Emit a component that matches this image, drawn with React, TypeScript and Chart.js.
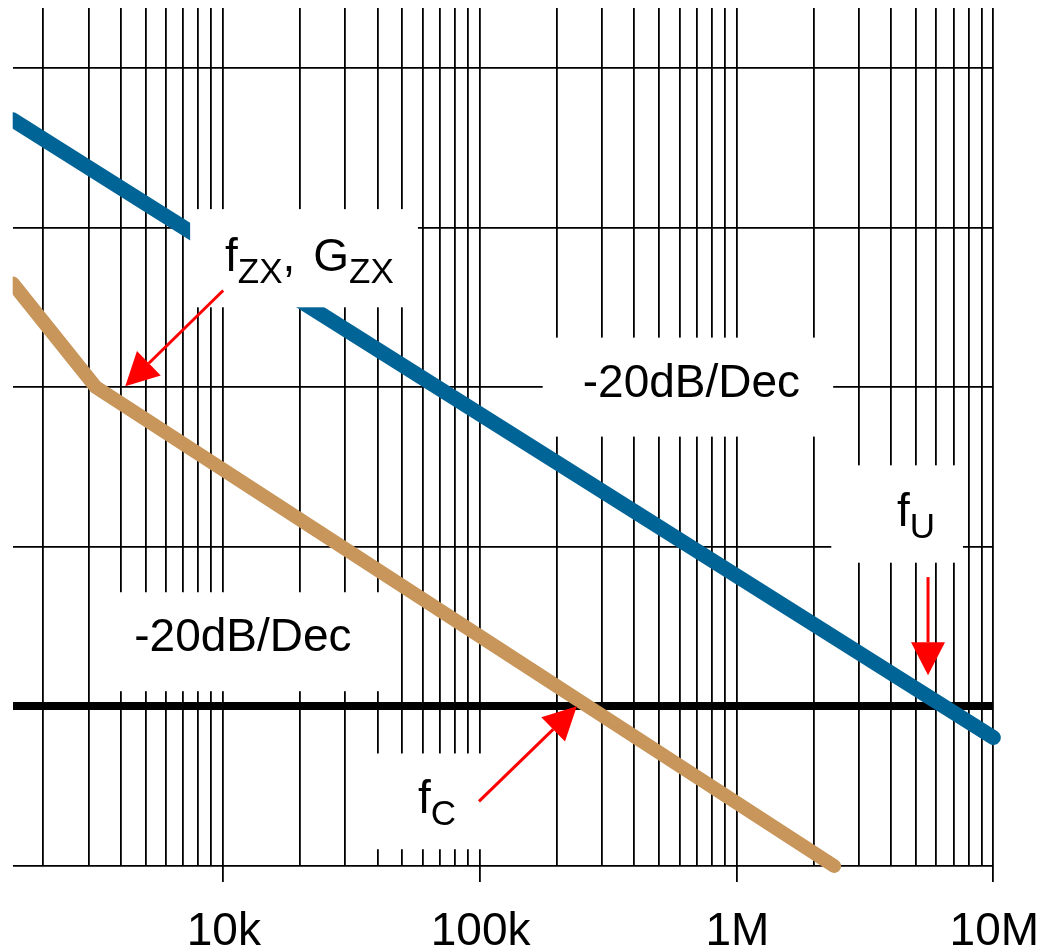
import React, { useEffect, useRef } from 'react';
import { Chart, registerables } from 'chart.js';

Chart.register(...registerables);

const FONT = '"Liberation Sans", Arial, Helvetica, sans-serif';

const X_MIN = 1520;
const X_MAX = 1e7;
const Y_MIN = -20;
const Y_MAX = 87.5;

const gainGridLines = [-20, 0, 20, 40, 60, 80];
const decadeTicks = [1e4, 1e5, 1e6, 1e7];
const decadeLabels = ['10k', '100k', '1M', '10M'];
const minorMultipliers = [2, 3, 4, 5, 6, 7, 8, 9];
const gridDecadeBases = [1e3, 1e4, 1e5, 1e6];

// open-loop gain (blue) and loop gain (tan)
const openLoopFreq = [1520, 1e7];
const openLoopGain = [73.5, -3.9];
const loopGainFreq = [1520, 3200, 2.4e6];
const loopGainDb = [53, 40, -20];

// white label backgrounds: [freqLeft, freqRight, gainTop, gainBottom]
const boxFreqLeft = [7460, 176000, 2340000, 3330, 32700];
const boxFreqRight = [57500, 2380000, 7620000, 42800, 172000];
const boxGainTop = [62.3, 46.2, 30.2, 14.3, -5.9];
const boxGainBottom = [50.0, 33.8, 18.0, 1.9, -17.9];

// text labels
const labelMain = ['f', 'G', '-20dB/Dec', '-20dB/Dec', 'f', 'f'];
const labelSub = ['ZX', 'ZX', '', '', 'U', 'C'];
const labelTail = [',', '', '', '', '', ''];
const labelFreq = [10200, 22500, 252000, 4520, 4220000, 57500];
const labelGain = [54.6, 54.6, 38.7, 6.9, 22.6, -13.3];

// red arrows
const arrowFromFreq = [10030, 99400, 5570000];
const arrowFromGain = [52.1, -11.9, 16.2];
const arrowToFreq = [4170, 239000, 5570000];
const arrowToGain = [40.1, 0, 3.9];

const gridTickValues: number[] = [];
gridDecadeBases.forEach((b) => minorMultipliers.forEach((m) => gridTickValues.push(b * m)));
decadeTicks.forEach((d) => { if (!gridTickValues.includes(d)) gridTickValues.push(d); });
gridTickValues.sort((a, b) => a - b);

function drawArrow(ctx: CanvasRenderingContext2D, x1: number, y1: number, x2: number, y2: number) {
  const ang = Math.atan2(y2 - y1, x2 - x1);
  const headLen = 33;
  const headHalf = 17;
  const bx = x2 - headLen * Math.cos(ang);
  const by = y2 - headLen * Math.sin(ang);
  ctx.strokeStyle = '#ff0000';
  ctx.fillStyle = '#ff0000';
  ctx.lineWidth = 3;
  ctx.beginPath();
  ctx.moveTo(x1, y1);
  ctx.lineTo(bx, by);
  ctx.stroke();
  ctx.beginPath();
  ctx.moveTo(x2, y2);
  ctx.lineTo(bx + headHalf * Math.sin(ang), by - headHalf * Math.cos(ang));
  ctx.lineTo(bx - headHalf * Math.sin(ang), by + headHalf * Math.cos(ang));
  ctx.closePath();
  ctx.fill();
}

const annotationPlugin = {
  id: 'bodeAnnotations',
  afterDatasetsDraw(chart: any) {
    const ctx: CanvasRenderingContext2D = chart.ctx;
    const xs = chart.scales.x;
    const ys = chart.scales.y;
    ctx.save();
    // label backgrounds
    ctx.fillStyle = '#ffffff';
    for (let i = 0; i < boxFreqLeft.length; i++) {
      const x1 = xs.getPixelForValue(boxFreqLeft[i]);
      const x2 = xs.getPixelForValue(boxFreqRight[i]);
      const y1 = ys.getPixelForValue(boxGainTop[i]);
      const y2 = ys.getPixelForValue(boxGainBottom[i]);
      ctx.fillRect(x1, y1, x2 - x1, y2 - y1);
    }
    // labels
    ctx.fillStyle = '#000000';
    ctx.textAlign = 'left';
    ctx.textBaseline = 'alphabetic';
    for (let i = 0; i < labelMain.length; i++) {
      let x = xs.getPixelForValue(labelFreq[i]);
      const y = ys.getPixelForValue(labelGain[i]);
      ctx.font = `46px ${FONT}`;
      ctx.fillText(labelMain[i], x, y);
      x += ctx.measureText(labelMain[i]).width;
      if (labelSub[i]) {
        ctx.font = `35px ${FONT}`;
        ctx.fillText(labelSub[i], x, y + 12);
        x += ctx.measureText(labelSub[i]).width;
      }
      if (labelTail[i]) {
        ctx.font = `46px ${FONT}`;
        ctx.fillText(labelTail[i], x, y);
      }
    }
    // arrows
    for (let i = 0; i < arrowFromFreq.length; i++) {
      drawArrow(
        ctx,
        xs.getPixelForValue(arrowFromFreq[i]),
        ys.getPixelForValue(arrowFromGain[i]),
        xs.getPixelForValue(arrowToFreq[i]),
        ys.getPixelForValue(arrowToGain[i])
      );
    }
    // x axis decade labels
    ctx.fillStyle = '#000000';
    ctx.font = `46px ${FONT}`;
    ctx.textAlign = 'center';
    const baseY = chart.chartArea.bottom + 79;
    decadeTicks.forEach((v, i) => {
      ctx.fillText(decadeLabels[i], xs.getPixelForValue(v) + 1, baseY);
    });
    ctx.restore();
  },
};

export default function App() {
  const canvasRef = useRef<HTMLCanvasElement | null>(null);

  useEffect(() => {
    document.body.style.margin = '0';
    document.body.style.overflow = 'hidden';
    const canvas = canvasRef.current;
    if (!canvas) return;
    const chart = new Chart(canvas, {
      type: 'line',
      data: {
        datasets: [
          {
            label: 'Open-loop gain',
            data: openLoopFreq.map((f, i) => ({ x: f, y: openLoopGain[i] })),
            borderColor: '#006496',
            borderWidth: 15,
            borderCapStyle: 'round',
            pointRadius: 0,
            fill: false,
            tension: 0,
            clip: { left: 0, top: 0, right: 10, bottom: 10 },
          } as any,
          {
            label: 'Loop gain',
            data: loopGainFreq.map((f, i) => ({ x: f, y: loopGainDb[i] })),
            borderColor: '#C8965A',
            borderWidth: 14,
            borderCapStyle: 'round',
            borderJoinStyle: 'miter',
            pointRadius: 0,
            fill: false,
            tension: 0,
            clip: { left: 0, top: 0, right: 10, bottom: 10 },
          } as any,
        ],
      },
      options: {
        animation: false,
        responsive: false,
        devicePixelRatio: 1,
        layout: { padding: { left: 12.7, right: 44.7, top: 8, bottom: 67 } },
        plugins: { legend: { display: false }, tooltip: { enabled: false } },
        events: [],
        scales: {
          x: {
            type: 'logarithmic',
            min: X_MIN,
            max: X_MAX,
            afterBuildTicks: (scale: any) => {
              scale.ticks = gridTickValues.map((v) => ({ value: v }));
            },
            ticks: { display: false },
            border: { display: false },
            grid: {
              color: '#000000',
              lineWidth: 1.8,
              drawTicks: true,
              tickLength: 16,
              tickWidth: 1.8,
              tickColor: (c: any) =>
                c.tick && decadeTicks.includes(c.tick.value) ? '#000000' : 'rgba(0,0,0,0)',
            },
          },
          y: {
            type: 'linear',
            min: Y_MIN,
            max: Y_MAX,
            afterBuildTicks: (scale: any) => {
              scale.ticks = gainGridLines.map((v) => ({ value: v }));
            },
            ticks: { display: false },
            border: { display: false },
            grid: {
              drawTicks: false,
              color: '#000000',
              lineWidth: (c: any) => (c.tick && c.tick.value === 0 ? 8 : 1.8),
            },
          },
        },
      } as any,
      plugins: [annotationPlugin],
    });
    return () => chart.destroy();
  }, []);

  return (
    <div style={{ width: 1038, height: 949 }}>
      <canvas ref={canvasRef} width={1038} height={949} style={{ display: 'block' }} />
    </div>
  );
}
